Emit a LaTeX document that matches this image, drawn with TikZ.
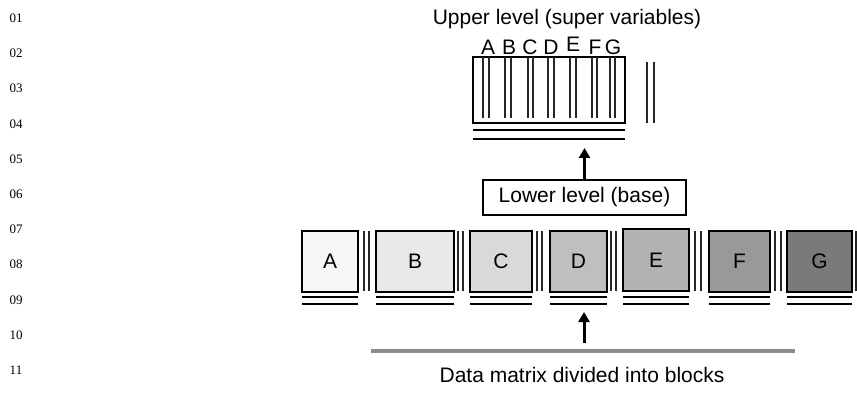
\documentclass[tikz,border=0pt]{standalone}
\usepackage{fontspec}
\setmainfont{Liberation Sans}
\newfontfamily\numfont{Liberation Serif}
\usetikzlibrary{arrows.meta,positioning}

\begin{document}
\begin{tikzpicture}[
  x=1pt, y=-1pt,
  font=\fontsize{21}{25}\selectfont,
  blk/.style={draw, line width=1.1pt, inner sep=0pt, minimum height=61pt},
  box/.style={draw, line width=1.1pt, inner sep=0pt, fill=white},
  sep/.style={line width=1.1pt, black!85},
  ul/.style={line width=1.1pt},
  arr/.style={-{Triangle[length=10pt,width=11pt]}, line width=3pt},
  lnum/.style={anchor=base, font=\numfont\fontsize{13}{15}\selectfont}
]
\useasboundingbox (0,0) rectangle (857,393);

% line numbers
\node[lnum] (n01) at (16,22.5) {01};
\node[lnum] (n02) at (16,57.7) {02};
\node[lnum] (n03) at (16,92.9) {03};
\node[lnum] (n04) at (16,128.1) {04};
\node[lnum] (n05) at (16,163.3) {05};
\node[lnum] (n06) at (16,198.5) {06};
\node[lnum] (n07) at (16,233.7) {07};
\node[lnum] (n08) at (16,268.9) {08};
\node[lnum] (n09) at (16,304.1) {09};
\node[lnum] (n10) at (16,339.3) {10};
\node[lnum] (n11) at (16,374.5) {11};

% upper level
\node[anchor=base] (title) at (567,25) {Upper level (super variables)};
\node[box, minimum width=152pt, minimum height=66pt] (sup) at (549,90) {};
\node[anchor=base] (sA) at (488,55) {A};
\node[anchor=base] (sB) at (509,55) {B};
\node[anchor=base] (sC) at (530,55) {C};
\node[anchor=base] (sD) at (551,55) {D};
\node[anchor=base] (sE) at (573,52) {E};
\node[anchor=base] (sF) at (595,55) {F};
\node[anchor=base] (sG) at (613,55) {G};
\draw[sep] (483,57) -- (483,118) (489,57) -- (489,118);
\draw[sep] (505,57) -- (505,118) (511,57) -- (511,118);
\draw[sep] (528,57) -- (528,118) (533,57) -- (533,118);
\draw[sep] (548,57) -- (548,118) (554,57) -- (554,118);
\draw[sep] (570,57) -- (570,118) (576,57) -- (576,118);
\draw[sep] (592,57) -- (592,118) (597,57) -- (597,118);
\draw[sep] (610,57) -- (610,118) (615,57) -- (615,118);
\draw[sep] (647,62) -- (647,123) (654,62) -- (654,123);
\draw[ul] (473,130) -- (625,130) (473,139) -- (625,139);

% lower level
\node[box, minimum width=203pt, minimum height=35pt] (base) at (584.5,197.5) {Lower level (base)};
\coordinate (uptip) at (584.5,148);
\draw[arr] (base) -- (uptip);

% blocks
\node[blk, fill=black!3,  minimum width=56pt] (bA) at (330,261.5) {A};
\node[blk, fill=black!9,  minimum width=78pt] (bB) at (415,261.5) {B};
\node[blk, fill=black!15, minimum width=62pt] (bC) at (501,261.5) {C};
\node[blk, fill=black!25, minimum width=57pt] (bD) at (578.5,261.5) {D};
\node[blk, fill=black!30, minimum width=66pt, minimum height=62pt] (bE) at (656,260) {E};
\node[blk, fill=black!40, minimum width=61pt] (bF) at (739.5,261.5) {F};
\node[blk, fill=black!52, minimum width=65pt] (bG) at (819.5,261.5) {G};
\draw[sep] (364,231) -- (364,291) (369,231) -- (369,291);
\draw[sep] (458,231) -- (458,291) (463,231) -- (463,291);
\draw[sep] (537,231) -- (537,291) (542,231) -- (542,291);
\draw[sep] (611,231) -- (611,291) (616,231) -- (616,291);
\draw[sep] (695,231) -- (695,291) (701,231) -- (701,291);
\draw[sep] (775,231) -- (775,291) (781,231) -- (781,291);
\draw[sep] (856,231) -- (856,291);
\draw[ul] (302,297) -- (358,297) (302,304) -- (358,304);
\draw[ul] (376,297) -- (454,297) (376,304) -- (454,304);
\draw[ul] (470,297) -- (532,297) (470,304) -- (532,304);
\draw[ul] (550,297) -- (607,297) (550,304) -- (607,304);
\draw[ul] (623,297) -- (689,297) (623,304) -- (689,304);
\draw[ul] (709,297) -- (770,297) (709,304) -- (770,304);
\draw[ul] (787,297) -- (852,297) (787,304) -- (852,304);

% data matrix
\coordinate (dl0) at (371,351);
\coordinate (dl1) at (795,351);
\draw[line width=3.5pt, black!45] (dl0) -- (dl1);
\coordinate (arrlo) at (584,343);
\coordinate (arrhi) at (584,312);
\draw[arr] (arrlo) -- (arrhi);
\node[anchor=base] (data) at (582,382) {Data matrix divided into blocks};
\end{tikzpicture}
\end{document}
